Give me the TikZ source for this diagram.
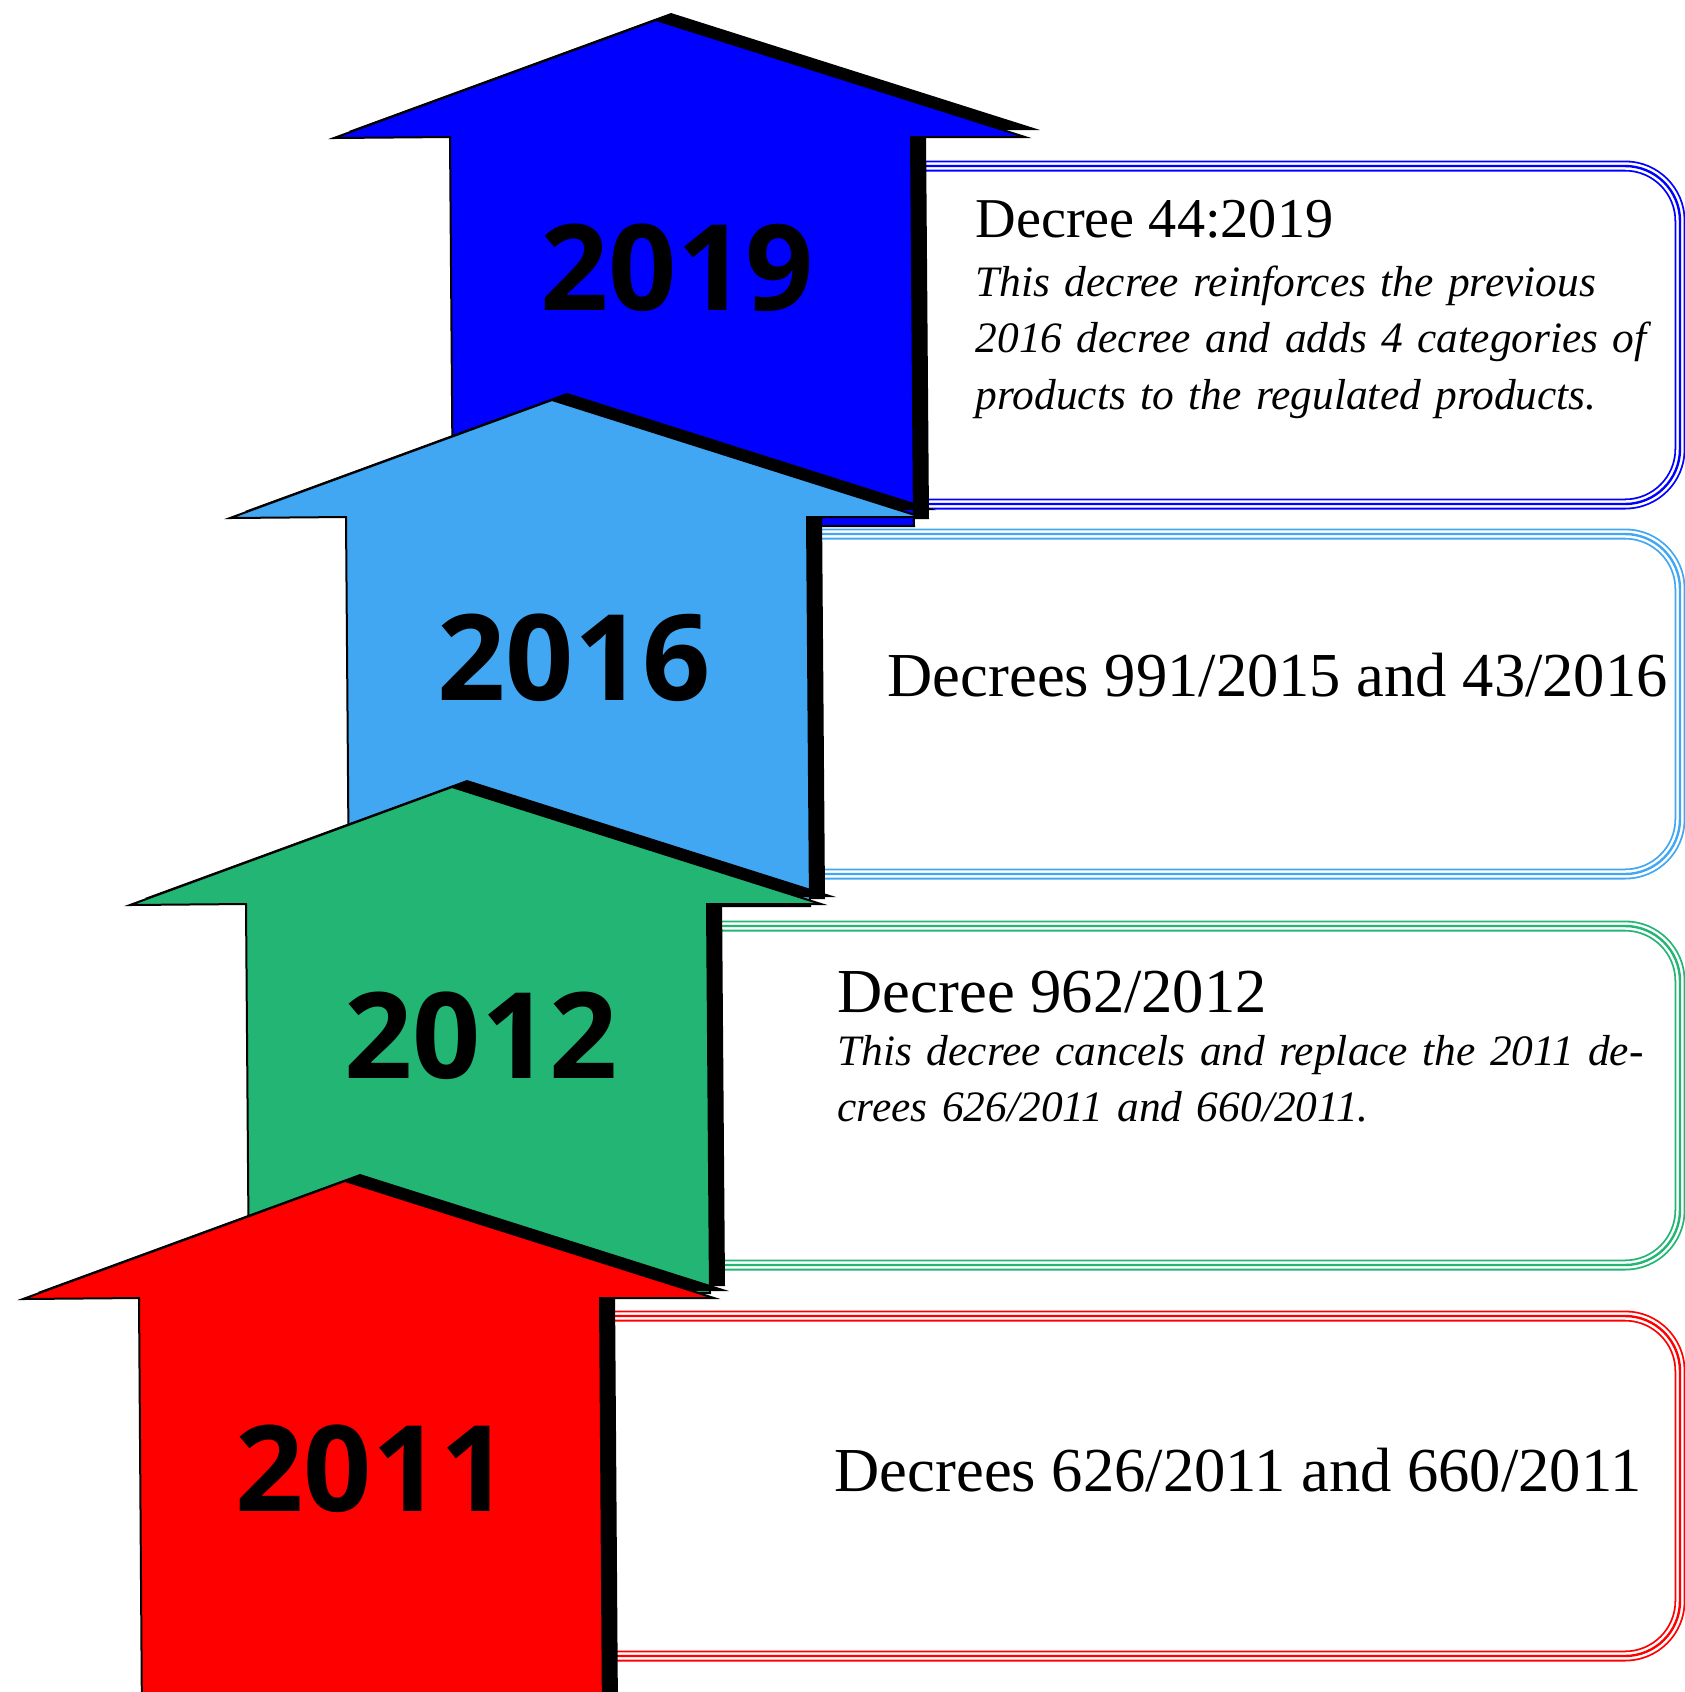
\documentclass[tikz,border=0pt]{standalone}
\usepackage{fontspec}
\setmainfont{Liberation Serif}
\newfontfamily\yearfont{Open Sans}

\definecolor{decblue}{HTML}{0000FF}
\definecolor{decsky}{HTML}{42A7F2}
\definecolor{decgreen}{HTML}{22B573}
\definecolor{decred}{HTML}{FF0000}

\tikzset{
  declbox/.style={draw=#1, line width=1.1mm, rounded corners=5.5mm,
    postaction={draw=white, line width=0.74mm},
    postaction={draw=#1, line width=0.24mm}},
  shadow/.style={fill=black},
  arrowbody/.style={fill=#1, draw=black, line width=0.2mm},
  yearlabel/.style={inner sep=0pt, font=\yearfont\bfseries\fontsize{34}{40}\selectfont},
  title/.style={inner sep=0pt, anchor=base west, font=\fontsize{17.8}{21}\selectfont},
  note/.style={inner sep=0pt, anchor=base west, text width=90mm, align=left,
    font=\fontsize{12.35}{16.2}\selectfont\itshape}
}

\begin{document}
\begin{tikzpicture}[x=0.1mm, y=-0.1mm]
    \useasboundingbox (0,0) rectangle (1685,1692);
    \clip (0,0) rectangle (1685,1692);

    % cadres
    \draw[declbox=decblue] (880,166) -- (1680,166) -- (1680,504) -- (880,504);
    \draw[declbox=decsky] (780,534) -- (1680,534) -- (1680,874) -- (780,874);
    \draw[declbox=decgreen] (680,926) -- (1680,926) -- (1680,1265) -- (680,1265);
    \draw[declbox=decred] (570,1316) -- (1680,1316) -- (1680,1656) -- (570,1656);

    % fleches (ombre puis couleur)
    \fill[shadow, shift={(671,13)}] (0,0) -- (369,117) -- (255,117) -- (258,506) -- (-203,506) -- (-206,117) -- (-322,118) -- cycle;
    \filldraw[arrowbody=decblue, shift={(656,20)}] (0,0) -- (369,117) -- (255,117) -- (258,506) -- (-203,506) -- (-206,117) -- (-322,118) -- cycle;

    \fill[shadow, shift={(567,393)}] (0,0) -- (369,117) -- (255,117) -- (258,506) -- (-203,506) -- (-206,117) -- (-322,118) -- cycle;
    \filldraw[arrowbody=decsky, shift={(552,400)}] (0,0) -- (369,117) -- (255,117) -- (258,506) -- (-203,506) -- (-206,117) -- (-322,118) -- cycle;

    \fill[shadow, shift={(467,780)}] (0,0) -- (369,117) -- (255,117) -- (258,506) -- (-203,506) -- (-206,117) -- (-322,118) -- cycle;
    \filldraw[arrowbody=decgreen, shift={(452,787)}] (0,0) -- (369,117) -- (255,117) -- (258,506) -- (-203,506) -- (-206,117) -- (-322,118) -- cycle;

    \fill[shadow, shift={(360,1174)}] (0,0) -- (369,117) -- (255,117) -- (258,540) -- (-203,540) -- (-206,117) -- (-322,118) -- cycle;
    \filldraw[arrowbody=decred, shift={(345,1181)}] (0,0) -- (369,117) -- (255,117) -- (258,540) -- (-203,540) -- (-206,117) -- (-322,118) -- cycle;

    % annees
    \node[yearlabel] (y2019) at (677,268) {2019};
    \node[yearlabel] (y2016) at (574,658) {2016};
    \node[yearlabel] (y2012) at (481,1036) {2012};
    \node[yearlabel] (y2011) at (372,1469) {2011};

    % textes
    \node[title, font=\fontsize{16}{19}\selectfont] (d2019) at (975,237) {Decree 44:2019};
    \node[note] (n2019) at (975,296) {This decree reinforces the previous\\2016 decree and adds 4 categories of\\products to the regulated products.};
    \node[title] (d2016) at (887,696) {Decrees 991/2015 and 43/2016};
    \node[title] (d2012) at (837,1012) {Decree 962/2012};
    \node[note] (n2012) at (837,1065) {This decree cancels and replace the 2011 de-\\crees 626/2011 and 660/2011.};
    \node[title] (d2011) at (834,1491) {Decrees 626/2011 and 660/2011};
\end{tikzpicture}
\end{document}
